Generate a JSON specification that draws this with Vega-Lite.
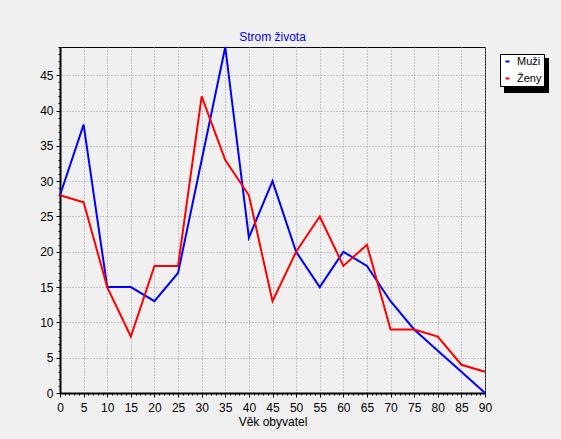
{
  "$schema": "https://vega.github.io/schema/vega-lite/v6.json",
  "width": 425,
  "height": 346,
  "autosize": "none",
  "padding": {"left": 60, "top": 47, "right": 76, "bottom": 46},
  "background": "#f0f0f0",
  "title": {"text": "Strom života", "color": "#0000ff", "fontSize": 12, "font": "Liberation Sans", "fontWeight": "normal", "offset": -1, "anchor": "middle"},
  "config": {"view": {"stroke": "black", "strokeWidth": 1, "fill": "#f0f0f0"}, "font": "Liberation Sans"},
  "data": {"values": [
    {"vek": 0, "pohlavi": "Muži", "pocet": 28},
    {"vek": 5, "pohlavi": "Muži", "pocet": 38},
    {"vek": 10, "pohlavi": "Muži", "pocet": 15},
    {"vek": 15, "pohlavi": "Muži", "pocet": 15},
    {"vek": 20, "pohlavi": "Muži", "pocet": 13},
    {"vek": 25, "pohlavi": "Muži", "pocet": 17},
    {"vek": 30, "pohlavi": "Muži", "pocet": 33},
    {"vek": 35, "pohlavi": "Muži", "pocet": 49},
    {"vek": 40, "pohlavi": "Muži", "pocet": 22},
    {"vek": 45, "pohlavi": "Muži", "pocet": 30},
    {"vek": 50, "pohlavi": "Muži", "pocet": 20},
    {"vek": 55, "pohlavi": "Muži", "pocet": 15},
    {"vek": 60, "pohlavi": "Muži", "pocet": 20},
    {"vek": 65, "pohlavi": "Muži", "pocet": 18},
    {"vek": 70, "pohlavi": "Muži", "pocet": 13},
    {"vek": 75, "pohlavi": "Muži", "pocet": 9},
    {"vek": 80, "pohlavi": "Muži", "pocet": 6},
    {"vek": 85, "pohlavi": "Muži", "pocet": 3},
    {"vek": 90, "pohlavi": "Muži", "pocet": 0},
    {"vek": 0, "pohlavi": "Ženy", "pocet": 28},
    {"vek": 5, "pohlavi": "Ženy", "pocet": 27},
    {"vek": 10, "pohlavi": "Ženy", "pocet": 15},
    {"vek": 15, "pohlavi": "Ženy", "pocet": 8},
    {"vek": 20, "pohlavi": "Ženy", "pocet": 18},
    {"vek": 25, "pohlavi": "Ženy", "pocet": 18},
    {"vek": 30, "pohlavi": "Ženy", "pocet": 42},
    {"vek": 35, "pohlavi": "Ženy", "pocet": 33},
    {"vek": 40, "pohlavi": "Ženy", "pocet": 28},
    {"vek": 45, "pohlavi": "Ženy", "pocet": 13},
    {"vek": 50, "pohlavi": "Ženy", "pocet": 20},
    {"vek": 55, "pohlavi": "Ženy", "pocet": 25},
    {"vek": 60, "pohlavi": "Ženy", "pocet": 18},
    {"vek": 65, "pohlavi": "Ženy", "pocet": 21},
    {"vek": 70, "pohlavi": "Ženy", "pocet": 9},
    {"vek": 75, "pohlavi": "Ženy", "pocet": 9},
    {"vek": 80, "pohlavi": "Ženy", "pocet": 8},
    {"vek": 85, "pohlavi": "Ženy", "pocet": 4},
    {"vek": 90, "pohlavi": "Ženy", "pocet": 3}
  ]},
  "layer": [
    {
      "mark": {"type": "line", "strokeWidth": 0},
      "encoding": {
        "x": {"field": "vek", "type": "quantitative", "scale": {"domain": [0, 90], "nice": false},
          "axis": {"orient": "bottom", "values": [0,1,2,3,4,5,6,7,8,9,10,11,12,13,14,15,16,17,18,19,20,21,22,23,24,25,26,27,28,29,30,31,32,33,34,35,36,37,38,39,40,41,42,43,44,45,46,47,48,49,50,51,52,53,54,55,56,57,58,59,60,61,62,63,64,65,66,67,68,69,70,71,72,73,74,75,76,77,78,79,80,81,82,83,84,85,86,87,88,89,90], "labels": false, "grid": false, "domain": false, "ticks": true, "tickSize": 2, "tickColor": "black", "title": null}},
        "y": {"field": "pocet", "type": "quantitative", "scale": {"domain": [0, 49], "nice": false},
          "axis": {"orient": "left", "values": [0,1,2,3,4,5,6,7,8,9,10,11,12,13,14,15,16,17,18,19,20,21,22,23,24,25,26,27,28,29,30,31,32,33,34,35,36,37,38,39,40,41,42,43,44,45,46,47,48,49], "labels": false, "grid": false, "domain": false, "ticks": true, "tickSize": 2, "tickColor": "black", "title": null}},
        "stroke": {"field": "pocet", "type": "quantitative", "scale": {"range": ["black", "black"]},
          "legend": {"type": "gradient", "title": null, "orient": "none", "direction": "horizontal", "legendX": 444, "legendY": 11, "padding": 0, "labelExpr": "''", "labelFontSize": 1, "labelOffset": 0, "gradientLength": 45, "gradientThickness": 35, "gradientStrokeColor": "black", "gradientStrokeWidth": 0, "zindex": 1}}
      }
    },
    {
      "mark": {"type": "line", "strokeWidth": 2},
      "encoding": {
        "x": {"field": "vek", "type": "quantitative", "scale": {"domain": [0, 90], "nice": false},
          "axis": {"orient": "bottom", "values": [0,5,10,15,20,25,30,35,40,45,50,55,60,65,70,75,80,85,90], "tickSize": 4, "tickColor": "black", "domainColor": "black", "domainWidth": 2, "grid": true, "gridColor": "#999999", "gridDash": [1, 2], "labelColor": "black", "labelFontSize": 12, "labelPadding": 5, "labelOverlap": false, "labelFlush": false, "title": "Věk obyvatel", "titleFontSize": 12, "titleFontWeight": "normal", "titleColor": "black", "titlePadding": 3}},
        "y": {"field": "pocet", "type": "quantitative", "scale": {"domain": [0, 49], "nice": false},
          "axis": {"orient": "left", "values": [0,5,10,15,20,25,30,35,40,45], "tickSize": 4, "tickColor": "black", "domainColor": "black", "domainWidth": 2, "grid": true, "gridColor": "#999999", "gridDash": [1, 2], "labelColor": "black", "labelFontSize": 12, "labelPadding": 3, "labelOverlap": false, "labelFlush": false, "title": null}},
        "color": {"field": "pohlavi", "type": "nominal", "scale": {"domain": ["Muži", "Ženy"], "range": ["#0000ff", "#ff0000"]},
          "legend": {"title": null, "orient": "none", "legendX": 440, "legendY": 7, "padding": 2, "fillColor": "white", "strokeColor": "black", "symbolType": "stroke", "symbolSize": 16, "symbolStrokeWidth": 2, "labelFontSize": 11, "labelColor": "black", "labelOffset": 4, "rowPadding": 5, "zindex": 2}}
      }
    }
  ],
  "resolve": {"axis": {"x": "independent", "y": "independent"}}
}
